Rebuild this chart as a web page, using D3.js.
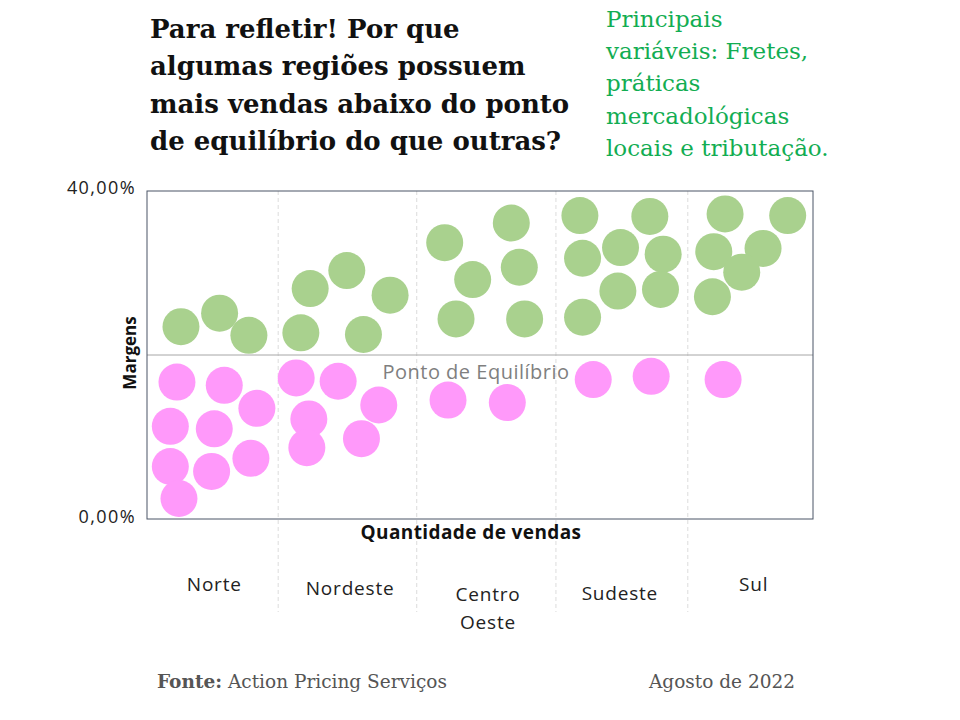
<!doctype html>
<html>
<head>
<meta charset="utf-8">
<script src="https://cdnjs.cloudflare.com/ajax/libs/d3/7.8.5/d3.min.js"></script>
<style>
  body { margin: 0; background: #fff; }
  svg { display: block; }
  .titulo { font-family: "DejaVu Serif", serif; font-weight: bold; fill: #111; }
  .nota { font-family: "DejaVu Serif", serif; fill: #12ad52; }
  .eixo text { font-family: "Open Sans", sans-serif; font-size: 18px; letter-spacing: 1.4px; fill: #222; }
  .rotulo { font-family: "Open Sans", sans-serif; font-weight: bold; fill: #111; }
  .regiao { font-family: "Open Sans", sans-serif; font-size: 19px; letter-spacing: 0.8px; fill: #222; }
  .rodape { font-family: "DejaVu Serif", serif; font-size: 18.5px; fill: #555; }
</style>
</head>
<body>
<svg width="960" height="720"></svg>
<script>
// --- dados ---
const titulo = ["Para refletir! Por que", "algumas regiões possuem", "mais vendas abaixo do ponto", "de equilíbrio do que outras?"];
const nota = ["Principais", "variáveis: Fretes,", "práticas", "mercadológicas", "locais e tributação."];
const regioes = ["Norte", "Nordeste", "Centro|Oeste", "Sudeste", "Sul"];
const centroRegiao = [10.1, 30.5, 51.2, 71, 91.1];
const divisores = [19.7, 40.5, 61.4, 81.2];
const pontoEquilibrio = 20;
const yTicks = [0, 40];

// acima do ponto de equilibrio (verde)
const acimaX = [5.1, 10.9, 15.3, 23.1, 24.5, 30.0, 32.5, 36.5, 44.7, 48.9, 46.4, 54.7, 55.9, 56.7,
  65.0, 65.4, 65.4, 71.1, 70.7, 75.5, 77.5, 77.1, 86.8, 85.1, 92.5, 89.3, 84.9, 96.2];
const acimaY = [23.45, 25.1, 22.4, 22.7, 28.1, 30.3, 22.5, 27.3, 33.7, 29.2, 24.4, 36.1, 30.7, 24.4,
  37.0, 31.8, 24.6, 33.1, 27.8, 36.9, 32.3, 28.0, 37.2, 32.6, 33.0, 30.1, 27.1, 37.0];
// abaixo do ponto de equilibrio (rosa)
const abaixoX = [4.5, 11.6, 16.5, 3.5, 10.1, 15.6, 3.5, 9.7, 4.8, 22.4, 28.7, 24.3, 24.0, 34.8, 32.2,
  45.2, 54.1, 67.0, 75.7, 86.5];
const abaixoY = [16.7, 16.3, 13.5, 11.3, 11.0, 7.4, 6.4, 5.8, 2.5, 17.2, 16.8, 12.2, 8.7, 13.9, 9.8,
  14.5, 14.2, 17.0, 17.4, 17.0];

const svg = d3.select("svg");
const pLeft = 147, pRight = 813, pTop = 191, pBottom = 519;
const x = d3.scaleLinear().domain([0, 100]).range([pLeft, pRight]);
const y = d3.scaleLinear().domain([0, 40]).range([pBottom, pTop]);

// titulo
svg.append("text").attr("class", "titulo").attr("x", 150).attr("y", 38)
  .style("font-size", "26px")
  .selectAll("tspan").data(titulo).enter().append("tspan")
  .attr("x", 150).attr("dy", (d, i) => i ? 37.3 : 0).text(d => d);

svg.append("text").attr("class", "nota").attr("x", 606).attr("y", 27)
  .style("font-size", "23px")
  .selectAll("tspan").data(nota).enter().append("tspan")
  .attr("x", 606).attr("dy", (d, i) => i ? 32.2 : 0).text(d => d);

// linhas divisorias tracejadas
svg.append("g").selectAll("line").data(divisores).enter().append("line")
  .attr("x1", d => x(d)).attr("x2", d => x(d))
  .attr("y1", pTop).attr("y2", 612)
  .attr("stroke", "#dcdcdc").attr("stroke-dasharray", "4,3");

// ponto de equilibrio
svg.append("line").attr("x1", pLeft).attr("x2", pRight)
  .attr("y1", y(pontoEquilibrio)).attr("y2", y(pontoEquilibrio))
  .attr("stroke", "#a6a6a6");

svg.append("text").attr("x", 476).attr("y", y(pontoEquilibrio) + 24)
  .attr("text-anchor", "middle")
  .style("font-family", "Open Sans, sans-serif").style("font-size", "20px")
  .style("letter-spacing", "0.5px")
  .style("fill", "#7f7f7f").text("Ponto de Equilíbrio");

// pontos
svg.append("g").selectAll("circle").data(acimaX).enter().append("circle")
  .attr("cx", d => x(d)).attr("cy", (d, i) => y(acimaY[i])).attr("r", 18.5)
  .attr("fill", "#a9d18e");

svg.append("g").selectAll("circle").data(abaixoX).enter().append("circle")
  .attr("cx", d => x(d)).attr("cy", (d, i) => y(abaixoY[i])).attr("r", 18.5)
  .attr("fill", "#ff99fa");

// moldura
svg.append("rect").attr("x", pLeft).attr("y", pTop)
  .attr("width", pRight - pLeft).attr("height", pBottom - pTop)
  .attr("fill", "none").attr("stroke", "#4a5466");

// eixo y
const fmt = d => d3.format(".2f")(d).replace(".", ",") + "%";
const eixoY = svg.append("g").attr("class", "eixo")
  .attr("transform", `translate(${pLeft - 8},0)`)
  .call(d3.axisLeft(y).tickValues(yTicks).tickSize(0).tickFormat(fmt));
eixoY.select(".domain").remove();
eixoY.selectAll("text").attr("dy", (d) => d ? "0.15em" : "0.2em");

svg.append("text").attr("class", "rotulo")
  .attr("transform", "translate(136,353) rotate(-90)")
  .attr("text-anchor", "middle").style("font-size", "17px").text("Margens");

svg.append("text").attr("class", "rotulo").attr("x", 471).attr("y", 539)
  .attr("text-anchor", "middle").style("font-size", "19px")
  .style("letter-spacing", "0.4px").text("Quantidade de vendas");

// regioes
const dyRegiao = [591, 595, 601, 600, 591];
regioes.forEach((r, i) => {
  const t = svg.append("text").attr("class", "regiao")
    .attr("text-anchor", "middle").attr("y", dyRegiao[i]);
  r.split("|").forEach((p, j) => {
    t.append("tspan").attr("x", x(centroRegiao[i])).attr("dy", j ? 28 : 0).text(p);
  });
});

// rodape
const fonte = svg.append("text").attr("class", "rodape").attr("x", 157).attr("y", 688);
fonte.append("tspan").style("font-weight", "bold").text("Fonte:");
fonte.append("tspan").text(" Action Pricing Serviços");
svg.append("text").attr("class", "rodape").attr("x", 795).attr("y", 688)
  .attr("text-anchor", "end").text("Agosto de 2022");
</script>
</body>
</html>
